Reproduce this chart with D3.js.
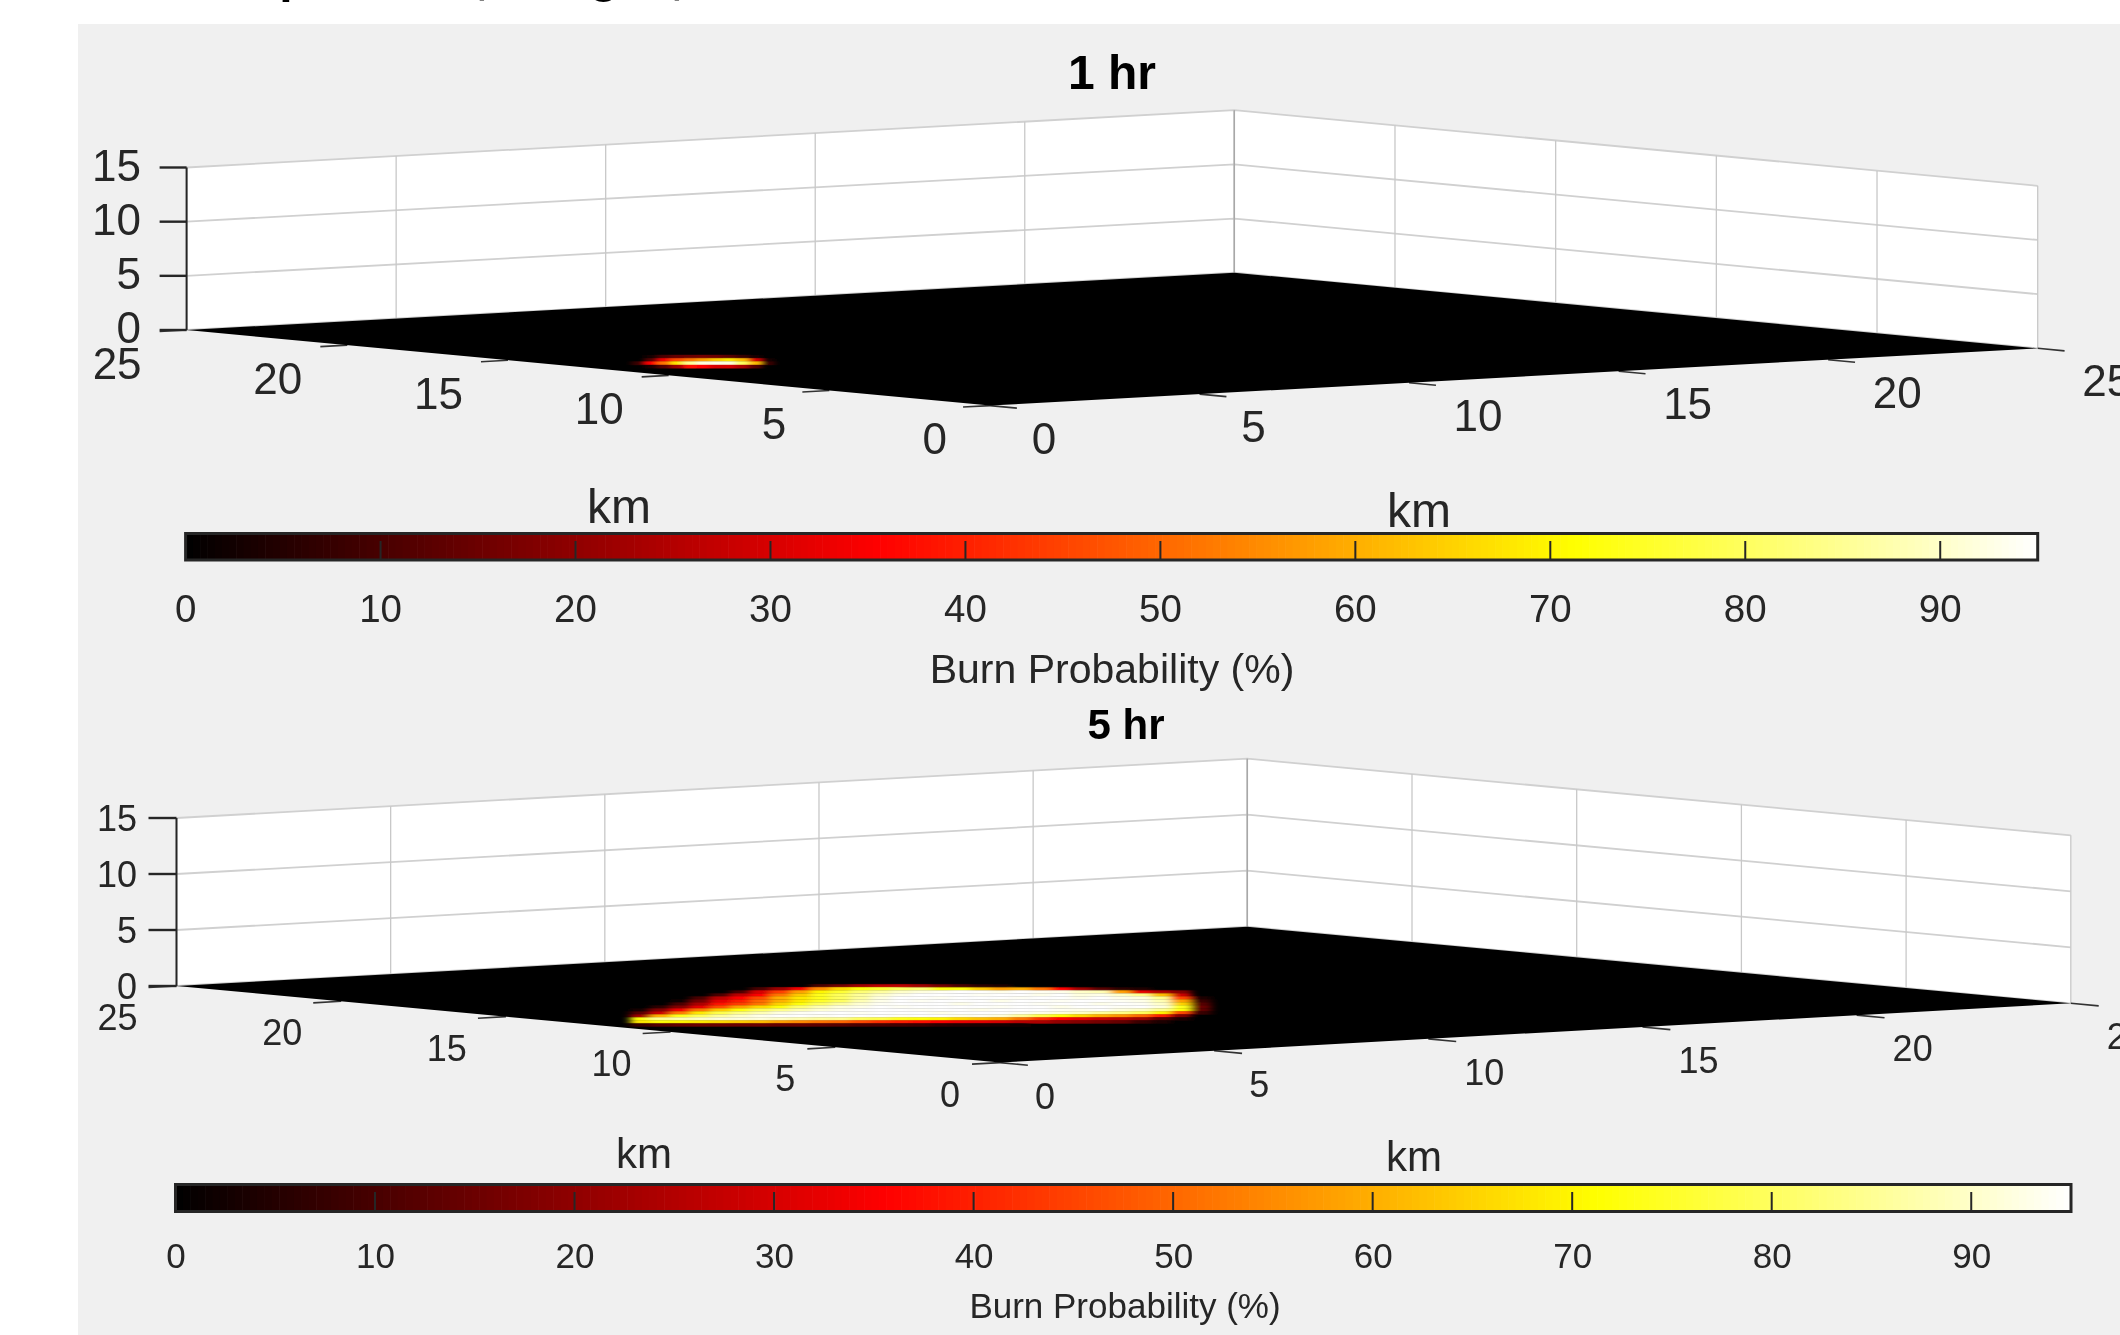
<!DOCTYPE html>
<html><head><meta charset="utf-8">
<script src="https://cdn.jsdelivr.net/npm/d3@7"></script>
<style>html,body{margin:0;padding:0;background:#fff;overflow:hidden}svg{display:block}text{font-family:"Liberation Sans",Arial,sans-serif;fill:#262626}</style>
</head><body><svg id="c" width="2120" height="1335"></svg>
<script>
// ---- data ----
const kmTicks = [0,5,10,15,20,25];
const zTicks = [0,5,10,15];
const cbarTicks = [0,10,20,30,40,50,60,70,80,90];
const cbarDomain = [0,95];
const hotStops = [0,35.6,71.25,95];
const hotColors = ["#000000","#ff0000","#ffff00","#ffffff"];
const cbarLevels = d3.range(256);
const titles = ["1 hr","5 hr"];
const xLabel = "km", yLabel = "km", cbarLabel = "Burn Probability (%)";
const clippedGlyphs = ["p",",","g",","];

// burn probability (%) sampled on a floor grid, in km
const burn1hr = [
 [0,3,10,14,15,16,15,12,8,3,0],
 [0,12,34,46,52,58,64,68,62,30,3],
 [8,36,52,68,85,92,93,92,80,62,8],
 [0,4,12,22,38,36,30,30,24,12,0]
];
const burn1hrOriginKm = [2.717,14.69], burn1hrColStepKm = [0.196,-0.1487], burn1hrRowStepKm = [-0.5344,-0.6973];

const burn5hr = [
 [0,0,0,0,0,0,0,0,0,10,16,22,26,26,22,16,10,6,4,0,0,0,0,0,0,0,0,0,0],
 [0,0,0,0,0,0,10,22,34,55,66,72,76,80,82,72,72,64,58,60,52,36,22,12,6,4,0,0,0],
 [0,0,0,0,0,10,30,44,58,70,76,82,86,90,92,94,95,95,93,95,94,93,90,88,58,32,24,18,0],
 [0,0,0,0,10,26,36,52,64,74,80,86,90,93,95,95,95,94,95,95,93,95,92,93,90,84,62,28,0],
 [0,0,0,10,26,36,46,60,68,74,80,86,92,95,95,94,95,95,95,94,95,95,93,95,93,92,84,45,4],
 [0,0,2,16,32,40,50,60,68,75,80,88,93,95,94,95,95,95,93,95,95,94,95,95,94,93,88,58,8],
 [0,0,10,24,38,44,52,65,72,80,86,91,94,95,95,95,93,95,95,95,94,95,95,93,95,94,90,65,12],
 [0,6,18,32,46,58,66,72,82,88,92,93,95,94,95,95,95,95,94,95,95,93,95,95,94,95,92,74,15],
 [3,18,34,52,64,72,80,84,88,91,93,95,95,95,94,95,95,93,95,95,95,94,93,95,92,90,85,72,14],
 [12,28,52,68,78,84,88,92,94,95,95,94,95,95,95,93,95,95,95,94,93,92,90,86,84,80,70,46,8],
 [22,60,74,80,86,90,93,95,95,94,95,95,95,94,95,95,93,94,92,86,78,72,66,60,56,50,40,18,0],
 [72,85,88,90,92,92,92,90,88,86,85,80,78,74,72,70,66,63,60,52,42,36,32,28,26,22,12,4,0],
 [68,72,70,68,66,64,62,58,55,52,50,46,42,40,38,35,33,32,30,26,24,20,18,16,14,8,4,0,0],
 [8,12,14,15,15,15,15,14,14,13,12,10,10,9,8,6,5,4,3,2,0,0,0,0,0,0,0,0,0]
];
const burn5hrOriginKm = [6.903,20.19], burn5hrColStepKm = [0.2928,-0.2268], burn5hrRowStepKm = [-0.4728,-0.6148];

// ---- layout ----
const panels = [
 {title:titles[0], grid:burn1hr, origin:burn1hrOriginKm, col:burn1hrColStepKm, row:burn1hrRowStepKm,
  F:[990,405.6], R:[2037.7,348.3], L:[186.6,330], h:162.5, tickLen:27, blur:"3 0.7",
  font:44, labelFont:48, titleFont:48, cbFont:38.5, cbLabelFont:41,
  titleX:1112, titleY:89,
  yLab:{dx:-45,dy:48.5,dxOne:-43}, xLab:{two:69,one:54,dy:48},
  zLabX:141, zLabDy:13,
  kmL:[619,523], kmR:[1419,526.5],
  cb:{x0:185.6,x1:2037.7,y0:533.5,y1:560,tickTop:541,labX:-0.5,labY:621.5,labelY:683,labelX:1112}},
 {title:titles[1], grid:burn5hr, origin:burn5hrOriginKm, col:burn5hrColStepKm, row:burn5hrRowStepKm,
  F:[1000,1062.6], R:[2070.8,1003.3], L:[176.5,986], h:168, tickLen:28, blur:"4 0.6",
  font:36, labelFont:42, titleFont:42, cbFont:35, cbLabelFont:35,
  titleX:1126, titleY:739,
  yLab:{dx:-39,dy:44,dxOne:-40}, xLab:{two:56,one:45,dy:46},
  zLabX:137, zLabDy:12.5,
  kmL:[644,1168], kmR:[1414,1170.5],
  cb:{x0:175.5,x1:2071,y0:1184.5,y1:1211.5,tickTop:1192,labX:0,labY:1268,labelY:1318,labelX:1125}}
];
const bg = "#f0f0f0", ink = "#262626", gridCol = "#d0d0d0";
const svg = d3.select("#c");
const root = svg.append("g").style("filter","blur(0.45px)");
root.append("rect").attr("x",78).attr("y",24).attr("width",2042).attr("height",1311).attr("fill",bg);

// clipped fragments of the heading above the panels
root.append("g").selectAll("text").data(clippedGlyphs).join("text")
  .text(d=>d).attr("font-size",48).attr("font-weight","bold").style("fill","#000")
  .attr("text-anchor","middle").attr("y",(d,i)=>d===","?-7:-8)
  .attr("x",(d,i)=>[294,483,604,678][i]);

const defs = svg.append("defs");
panels.forEach((p,i)=>{
  defs.append("filter").attr("id","soft"+i).attr("x","-10%").attr("y","-40%").attr("width","120%").attr("height","180%")
    .append("feGaussianBlur").attr("stdDeviation",p.blur);
});

const heat = d3.scaleLinear().domain(hotStops).range(hotColors).clamp(true);

panels.forEach((p,pi)=>{
  const g = root.append("g");
  // linear projection from km / height to the page, built from scales
  const sxX = d3.scaleLinear().domain([0,25]).range([0,p.R[0]-p.F[0]]);
  const syX = d3.scaleLinear().domain([0,25]).range([0,p.R[1]-p.F[1]]);
  const sxY = d3.scaleLinear().domain([0,25]).range([0,p.L[0]-p.F[0]]);
  const syY = d3.scaleLinear().domain([0,25]).range([0,p.L[1]-p.F[1]]);
  const sz  = d3.scaleLinear().domain([0,15]).range([0,-p.h]);
  const P = (x,y,z=0)=>[p.F[0]+sxX(x)+sxY(y), p.F[1]+syX(x)+syY(y)+sz(z)];
  const line = d3.line();

  // walls
  g.append("path").attr("fill","#fff")
   .attr("d",line([P(0,25,0),P(0,25,15),P(25,25,15),P(25,0,15),P(25,0,0),P(25,25,0)])+"Z");
  // grid
  const gl = g.append("g").attr("fill","none").attr("stroke",gridCol).attr("stroke-width",1.8);
  zTicks.forEach(z=>{ gl.append("path").attr("d",line([P(0,25,z),P(25,25,z),P(25,0,z)])); });
  const gv = g.append("g").attr("fill","none").attr("stroke","#c8c8c8").attr("stroke-width",1.3);
  kmTicks.forEach(k=>{
    gv.append("path").attr("d",line([P(k,25,0),P(k,25,15)]));
    gv.append("path").attr("d",line([P(25,k,0),P(25,k,15)]));
  });
  g.append("path").attr("stroke","#a8a8a8").attr("stroke-width",1.5).attr("d",line([P(25,25,0),P(25,25,15)]));

  // ticks on the floor edges (under the floor)
  const tk = g.append("g").attr("stroke","#333").attr("stroke-width",1.6).attr("fill","none");
  const kLen = p.tickLen/ Math.hypot(sxX(25),syX(25)) * 25;
  const kLenY = p.tickLen/ Math.hypot(sxY(25),syY(25)) * 25;
  kmTicks.forEach(k=>{
    tk.append("path").attr("d",line([P(k,0),P(k,-kLenY)]));
    tk.append("path").attr("d",line([P(0,k),P(-kLen,k)]));
  });

  // floor
  g.append("path").attr("fill","#000").attr("d",line([P(0,0),P(25,0),P(25,25),P(0,25)])+"Z");

  // burn surface
  const bs = g.append("g").attr("filter",`url(#soft${pi})`);
  p.grid.forEach((rowVals,r)=>rowVals.forEach((v,c)=>{
    if(v<=0) return;
    const km=(cc,rr)=>P(p.origin[0]+cc*p.col[0]+rr*p.row[0], p.origin[1]+cc*p.col[1]+rr*p.row[1]);
    bs.append("path").attr("fill",heat(v)).attr("stroke",heat(v)).attr("stroke-width",0.4)
      .attr("d",line([km(c,r),km(c+1,r),km(c+1,r+1),km(c,r+1)])+"Z");
  }));

  // z axis
  const za = g.append("g").attr("stroke",ink).attr("fill","none");
  za.append("path").attr("stroke-width",2).attr("d",line([P(0,25,0),P(0,25,15)]));
  zTicks.forEach(z=>{
    const a=P(0,25,z);
    za.append("path").attr("stroke-width",2.4).attr("d",line([[a[0]-p.tickLen,a[1]],a]));
    g.append("text").text(z).attr("x",p.zLabX).attr("y",a[1]+p.zLabDy).attr("text-anchor","end").attr("font-size",p.font);
  });

  // km tick labels
  kmTicks.forEach(k=>{
    const a=P(0,k);
    g.append("text").text(k).attr("text-anchor","end").attr("font-size",p.font)
      .attr("x",a[0]+(k<10?p.yLab.dxOne:p.yLab.dx)).attr("y",a[1]+p.yLab.dy);
    const b=P(k,0);
    g.append("text").text(k).attr("text-anchor","middle").attr("font-size",p.font)
      .attr("x",b[0]+(k<10?p.xLab.one:p.xLab.two)).attr("y",b[1]+p.xLab.dy);
  });

  g.append("text").text(yLabel).attr("x",p.kmL[0]).attr("y",p.kmL[1]).attr("text-anchor","middle").attr("font-size",p.labelFont);
  g.append("text").text(xLabel).attr("x",p.kmR[0]).attr("y",p.kmR[1]).attr("text-anchor","middle").attr("font-size",p.labelFont);
  g.append("text").text(p.title).attr("x",p.titleX).attr("y",p.titleY).attr("text-anchor","middle")
    .attr("font-size",p.titleFont).attr("font-weight","bold").style("fill","#000");

  // colorbar
  const cb=p.cb;
  const cx=d3.scaleLinear().domain(cbarDomain).range([cb.x0,cb.x1]);
  const level=d3.scaleBand().domain(cbarLevels).range(cbarDomain);
  g.append("g").selectAll("rect").data(cbarLevels).join("rect")
    .attr("x",d=>cx(level(d))).attr("y",cb.y0).attr("height",cb.y1-cb.y0)
    .attr("width",d=>cx(level.bandwidth())-cx(0)+0.6)
    .attr("fill",d=>heat(level(d)+level.bandwidth()/2));
  g.append("rect").attr("x",cb.x0).attr("y",cb.y0).attr("width",cb.x1-cb.x0).attr("height",cb.y1-cb.y0)
    .attr("fill","none").attr("stroke",ink).attr("stroke-width",3);
  const axis=d3.axisBottom(cx).tickValues(cbarTicks).tickSize(0).tickPadding(0).tickFormat(d3.format("d"));
  const ag=g.append("g").attr("transform",`translate(${cb.labX},${cb.labY})`).call(axis);
  ag.select(".domain").remove();
  ag.selectAll("text").attr("y",0).attr("dy",0).attr("font-size",p.cbFont).attr("font-family",null);
  cbarTicks.slice(1).forEach(t=>{
    g.append("path").attr("stroke",ink).attr("stroke-width",2)
     .attr("d",line([[cx(t),cb.tickTop],[cx(t),cb.y1]]));
  });
  g.append("text").text(cbarLabel).attr("x",cb.labelX).attr("y",cb.labelY).attr("text-anchor","middle").attr("font-size",p.cbLabelFont);
});
</script></body></html>
